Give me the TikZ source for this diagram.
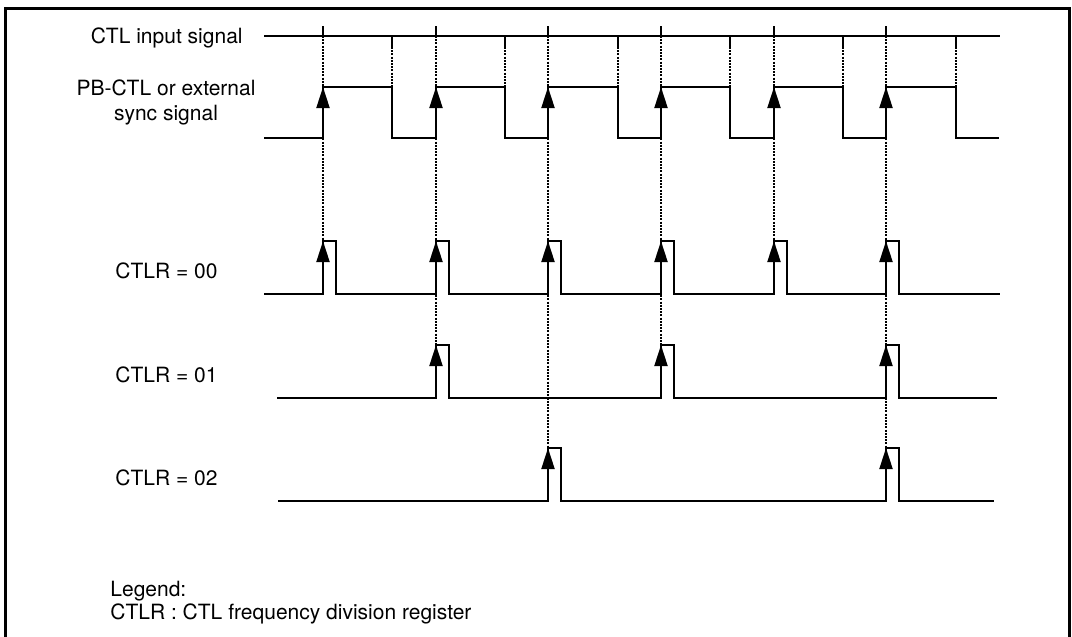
\documentclass[tikz,border=0pt]{standalone}
\usepackage{fontspec}
\setmainfont{TeX Gyre Heros}
\usetikzlibrary{arrows.meta}

\begin{document}
\begin{tikzpicture}[
  x=0.5pt, y=-0.5pt,
  >={Triangle[length=10.5pt, width=6.5pt]},
  every node/.style={font=\fontsize{10.5}{12.6}\selectfont, inner sep=0pt},
  sig/.style={line width=1pt},
  edge/.style={line width=1pt, ->},
  guide/.style={line width=0.9pt, dash pattern=on 1pt off 0.6pt},
]
\useasboundingbox (0,0) rectangle (1072,637);
% frame
\draw[line width=1.5pt] (5,637) -- (5,8.5) -- (1069,8.5) -- (1069,637);

% labels
\node[anchor=base east] (lctl) at (243,43.5) {CTL input signal};
\node[anchor=base, align=center] (lpb) at (166,120.5) {PB-CTL or external\\sync signal};
\node[anchor=base west] (l00) at (115,278) {CTLR = 00};
\node[anchor=base west] (l01) at (115,382) {CTLR = 01};
\node[anchor=base west] (l02) at (115,485) {CTLR = 02};
\node[anchor=base west, align=left, font=\fontsize{10.5}{11.5}\selectfont]
  (legend) at (110,619) {Legend:\\CTLR : CTL frequency division register};

% guide lines from the rising edges
\draw[guide] (323,36) -- (323,241);
\draw[guide] (436,36) -- (436,345);
\draw[guide] (548,36) -- (548,448);
\draw[guide] (661,36) -- (661,345);
\draw[guide] (774,36) -- (774,241);
\draw[guide] (886,36) -- (886,448);
% guide lines from the falling edges
\foreach \f in {392,505,618,730,843,956}
  \draw[guide] (\f,47) -- (\f,87);

% CTL input signal
\draw[sig] (264,36) -- (1000,36);
\foreach \r in {323,436,548,661,774,886}
  \draw[sig] (\r,26) -- (\r,36);
\foreach \f in {392,505,618,730,843,956}
  \draw[sig] (\f,36) -- (\f,47);

% PB-CTL or external sync signal
\draw[sig] (264,138) -| (323,87) -| (392,138) -| (436,87) -| (505,138)
  -| (548,87) -| (618,138) -| (661,87) -| (730,138) -| (774,87)
  -| (843,138) -| (886,87) -| (956,138) -- (999,138);
\foreach \r in {323,436,548,661,774,886}
  \draw[edge] (\r,138) -- (\r,87);

% CTLR = 00
\draw[sig] (264,294) -| (323,241) -| (336,294) -| (436,241) -| (449,294)
  -| (548,241) -| (561,294) -| (661,241) -| (674,294) -| (774,241)
  -| (787,294) -| (886,241) -| (899,294) -- (1000,294);
\foreach \r in {323,436,548,661,774,886}
  \draw[edge] (\r,294) -- (\r,241);

% CTLR = 01
\draw[sig] (277,398) -| (436,345) -| (449,398) -| (661,345) -| (674,398)
  -| (886,345) -| (899,398) -- (997,398);
\foreach \r in {436,661,886}
  \draw[edge] (\r,398) -- (\r,345);

% CTLR = 02
\draw[sig] (278,501) -| (548,448) -| (561,501) -| (886,448) -| (899,501)
  -- (994,501);
\foreach \r in {548,886}
  \draw[edge] (\r,501) -- (\r,448);
\end{tikzpicture}
\end{document}
